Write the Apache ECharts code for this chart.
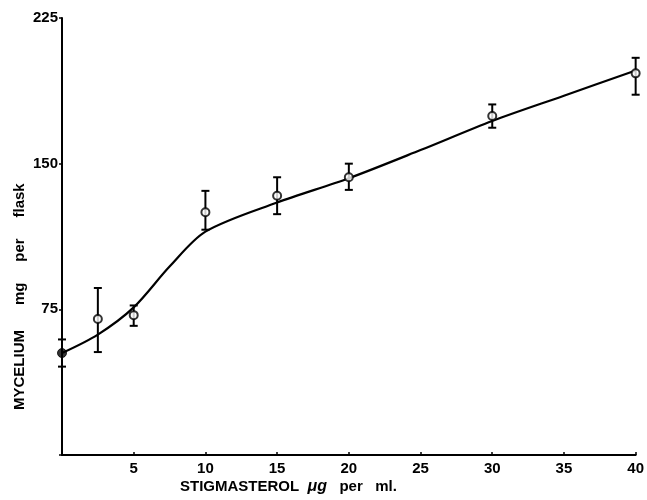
<!DOCTYPE html>
<html><head><meta charset="utf-8">
<script src="https://cdn.jsdelivr.net/npm/echarts@6/dist/echarts.min.js"></script>
</head><body style="margin:0;background:#fff">
<div id="c" style="width:647px;height:500px"></div>
<script>
// Data
const doseX   = [0, 2.5, 5, 10, 15, 20, 30, 40];
const mycelium = [52.5, 70, 72, 125, 133.5, 143, 174.5, 196.5];
const errLow  = [45.5, 53, 66.5, 116, 124, 136.5, 168.5, 185.5];
const errHigh = [59.5, 86, 77, 136, 143, 150, 180.5, 204.5];
const curveX = [0, 2.5, 5, 7.5, 10, 15, 20, 25, 30, 35, 40];
const curveY = [52.5, 62, 76, 97, 115, 130, 142.5, 157, 172, 185, 198];
const xTicks = [0, 5, 10, 15, 20, 25, 30, 35, 40];
const yTicks = [0, 75, 150, 225];

const chart = echarts.init(document.getElementById('c'), null, {renderer: 'canvas'});
const font = 'Liberation Sans';
const openPts = [], filledPts = [], bars = [];
doseX.forEach((x, i) => {
  (i === 0 ? filledPts : openPts).push([x, mycelium[i]]);
  bars.push([x, errLow[i], errHigh[i]]);
});
chart.setOption({
  animation: false,
  backgroundColor: '#fff',
  grid: {left: 62, right: 10, top: 18, bottom: 45},
  xAxis: {
    type: 'value', min: xTicks[0], max: xTicks[xTicks.length - 1], interval: 5,
    splitLine: {show: false},
    axisLine: {lineStyle: {color: '#000', width: 2}},
    axisTick: {show: true, inside: true, length: 3, lineStyle: {color: '#000', width: 1.5}},
    axisLabel: {color: '#000', fontFamily: font, fontSize: 15, fontWeight: 'bold', margin: 6,
      formatter: v => v === 0 ? '' : String(v)}
  },
  yAxis: {
    type: 'value', min: yTicks[0], max: yTicks[yTicks.length - 1], interval: 75,
    splitLine: {show: false},
    axisLine: {lineStyle: {color: '#000', width: 2}},
    axisTick: {show: true, length: 3, lineStyle: {color: '#000', width: 1.5}},
    axisLabel: {color: '#000', fontFamily: font, fontSize: 15, fontWeight: 'bold', margin: 4,
      formatter: v => v === 0 ? '' : String(v)}
  },
  graphic: [
    {type: 'text', left: 180, top: 479,
     style: {text: 'STIGMASTEROL  {i|μg}   per   ml.', fill: '#000',
       font: 'bold 15px ' + font,
       rich: {i: {fontStyle: 'italic', fontWeight: 'bold', fontSize: 16, fontFamily: font}}}},
    {type: 'text', x: 12, y: 410, rotation: Math.PI / 2,
     style: {text: 'MYCELIUM      mg     per     flask', fill: '#000',
       font: 'bold 15px ' + font, textAlign: 'left', textVerticalAlign: 'top'}}
  ],
  series: [
    {type: 'line', data: curveX.map((x, i) => [x, curveY[i]]), smooth: 0.3,
     showSymbol: false, lineStyle: {color: '#000', width: 2.2}, z: 2},
    {type: 'custom', data: bars, z: 3,
     renderItem: (params, api) => {
       const x = api.value(0);
       const lo = api.coord([x, api.value(1)]);
       const hi = api.coord([x, api.value(2)]);
       const w = 4;
       const st = {stroke: '#000', lineWidth: 2};
       return {type: 'group', children: [
         {type: 'line', shape: {x1: lo[0], y1: lo[1], x2: hi[0], y2: hi[1]}, style: st},
         {type: 'line', shape: {x1: lo[0] - w, y1: lo[1], x2: lo[0] + w, y2: lo[1]}, style: st},
         {type: 'line', shape: {x1: hi[0] - w, y1: hi[1], x2: hi[0] + w, y2: hi[1]}, style: st}
       ]};
     }},
    {type: 'scatter', data: openPts, symbol: 'circle', symbolSize: 8, z: 5,
     itemStyle: {color: '#fff', borderColor: '#000', borderWidth: 2}},
    {type: 'scatter', data: filledPts, symbol: 'circle', symbolSize: 9, z: 5,
     itemStyle: {color: '#000', borderColor: '#000', borderWidth: 1}}
  ]
});
</script>
</body></html>
